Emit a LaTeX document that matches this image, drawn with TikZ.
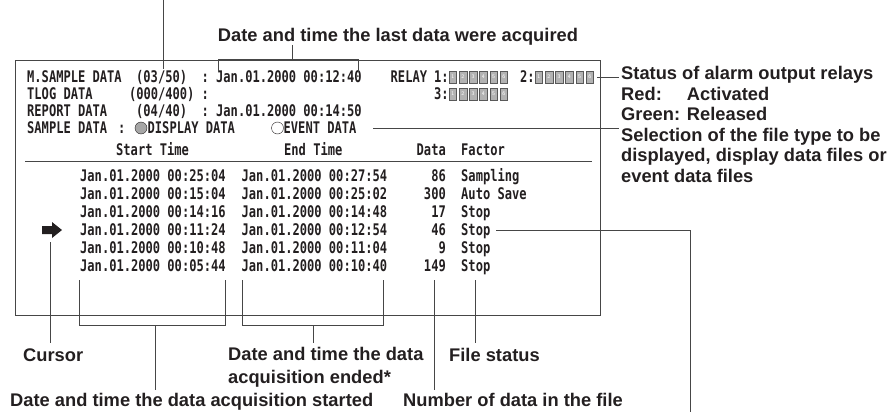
\documentclass[tikz,border=0pt]{standalone}
\usepackage{fontspec}
\setmainfont{Liberation Sans}
\newfontfamily\scrfam[FakeStretch=0.755]{DejaVu Sans Mono}
\definecolor{ink}{RGB}{35,31,32}
\definecolor{ln}{RGB}{70,70,70}
\begin{document}
\begin{tikzpicture}[x=1pt,y=-1pt,
  lbl/.style={font=\fontsize{18.3}{20}\selectfont\bfseries, text=ink, inner sep=0pt, anchor=base west},
  scr/.style={font=\fontsize{16}{18}\selectfont\scrfam\bfseries, text=ink, inner sep=0pt, anchor=base west},
  scrr/.style={scr, anchor=base east},
  lead/.style={draw=ln, line width=0.9pt},
  relbox/.style={draw=black!65, fill=black!30, minimum width=7.5pt, minimum height=12pt, inner sep=0pt, font=\fontsize{5.5}{6}\selectfont\sffamily, text=white},
]
\useasboundingbox (0,0) rectangle (893,412);
% screen frame
\draw[lead] (15,60) rectangle (600,315);
% ---- screen rows
\node[scr] (r1a) at (27,82.8) {M.SAMPLE DATA};
\node[scr] (r1b) at (136,82.8) {(03/50)};
\node[scr] (r1c) at (201.5,82.8) {:};
\node[scr] (r1d) at (216,82.8) {Jan.01.2000 00:12:40};
\node[scr] (r1e) at (390.5,82.8) {RELAY};
\node[scr] (r1f) at (434,82.8) {1:};
\node[scr] (r1g) at (520,82.8) {2:};
\node[scr] (r2a) at (27,99.8) {TLOG DATA};
\node[scr] (r2b) at (128.8,99.8) {(000/400)};
\node[scr] (r2c) at (201.5,99.8) {:};
\node[scr] (r2f) at (434,99.8) {3:};
\node[scr] (r3a) at (27,116.8) {REPORT DATA};
\node[scr] (r3b) at (136,116.8) {(04/40)};
\node[scr] (r3c) at (201.5,116.8) {:};
\node[scr] (r3d) at (216,116.8) {Jan.01.2000 00:14:50};
\node[scr] (r4a) at (27,133.8) {SAMPLE DATA};
\node[scr] (r4c) at (118,133.8) {:};
\node[circle, draw=ink, fill=black!35, minimum size=12pt, inner sep=0pt] (c1) at (141,128) {};
\node[scr] (r4d) at (147.5,133.8) {DISPLAY DATA};
\node[circle, draw=ink, fill=white, minimum size=12pt, inner sep=0pt] (c2) at (277.5,128) {};
\node[scr] (r4e) at (283.5,133.8) {EVENT DATA};
% relay boxes
\foreach \i in {1,...,6}{
  \node[relbox] (ba\i) at ({452.75+(\i-1)*10.2},77) {\i};
  \node[relbox] (bb\i) at ({538.75+(\i-1)*10.2},77) {\i};
  \node[relbox] (bc\i) at ({452.75+(\i-1)*10.2},94) {\i};
}
% header
\node[scr] (hs) at (116,155.8) {Start Time};
\node[scr] (he) at (284,155.8) {End Time};
\node[scrr] (hd) at (446,155.8) {Data};
\node[scr] (hf) at (461,155.8) {Factor};
\coordinate (sepl) at (25,161);
\coordinate (sepr) at (592,161);
\draw[lead] (sepl) -- (sepr);
% data rows
\foreach \y/\s/\e/\n/\f/\k in {176/00:25:04/00:27:54/86/Sampling/1,
  194/00:15:04/00:25:02/300/Auto Save/2,
  212/00:14:16/00:14:48/17/Stop/3,
  230/00:11:24/00:12:54/46/Stop/4,
  248/00:10:48/00:11:04/9/Stop/5,
  266/00:05:44/00:10:40/149/Stop/6}{
  \node[scr] (s\k) at (80,\y+5.8) {Jan.01.2000 \s};
  \node[scr] (e\k) at (241.5,\y+5.8) {Jan.01.2000 \e};
  \node[scrr] (n\k) at (446,\y+5.8) {\n};
  \node[scr] (f\k) at (461,\y+5.8) {\f};
}
% cursor arrow
\fill[ink] (42,226) -- (52,226) -- (52,222) -- (62,230) -- (52,238) -- (52,234) -- (42,234) -- cycle;
\coordinate (cur) at (50,242);
% ---- labels
\node[lbl, anchor=base] (last) at (398,41.6) {Date and time the last data were acquired};
\node[lbl] (st1) at (621,79.6) {Status of alarm output relays};
\node[lbl] (st2) at (621,100.1) {\rlap{Red:}\phantom{Green: }Activated};
\node[lbl] (st3) at (621,120.6) {Green: Released};
\node[lbl] (se1) at (621,141.1) {Selection of the file type to be};
\node[lbl] (se2) at (621,161.6) {displayed, display data files or};
\node[lbl] (se3) at (621,182.1) {event data files};
\node[lbl] (curl) at (23,361.6) {Cursor};
\node[lbl] (end1) at (228,360.6) {Date and time the data};
\node[lbl] (end2) at (228,383.6) {acquisition ended*};
\node[lbl] (fst) at (449,361.6) {File status};
\node[lbl] (stl) at (10,406.6) {Date and time the data acquisition started};
\node[lbl] (num) at (403,406.6) {Number of data in the file};
% ---- leaders
\coordinate (tp0) at (163,0); \coordinate (tp1) at (163,69);
\draw[lead] (tp0) -- (tp1);
\coordinate (lb0) at (292,45); \coordinate (lb1) at (292,59);
\draw[lead] (lb0) -- (lb1);
\draw[lead] (218,72) -- (218,59) -- (358,59) -- (358,72);
\coordinate (rl0) at (597,77); \coordinate (rl1) at (619,77);
\draw[lead] (rl0) -- (rl1);
\coordinate (sl0) at (373,128); \coordinate (sl1) at (619,128);
\draw[lead] (sl0) -- (sl1);
\coordinate (fl0) at (496,230); \coordinate (fl1) at (690,230); \coordinate (fl2) at (690,412);
\draw[lead] (fl0) -- (fl1) -- (fl2);
\coordinate (cu1) at (50,343);
\draw[lead] (cur) -- (cu1);
\draw[lead] (79,280) -- (79,325) -- (225,325) -- (225,280);
\coordinate (sb0) at (155,325); \coordinate (sb1) at (155,390);
\draw[lead] (sb0) -- (sb1);
\draw[lead] (242,280) -- (242,325) -- (383,325) -- (383,280);
\coordinate (eb0) at (313,325); \coordinate (eb1) at (313,343);
\draw[lead] (eb0) -- (eb1);
\coordinate (nb0) at (434,280); \coordinate (nb1) at (434,390);
\draw[lead] (nb0) -- (nb1);
\coordinate (fb0) at (475,280); \coordinate (fb1) at (475,343);
\draw[lead] (fb0) -- (fb1);
\end{tikzpicture}
\end{document}
